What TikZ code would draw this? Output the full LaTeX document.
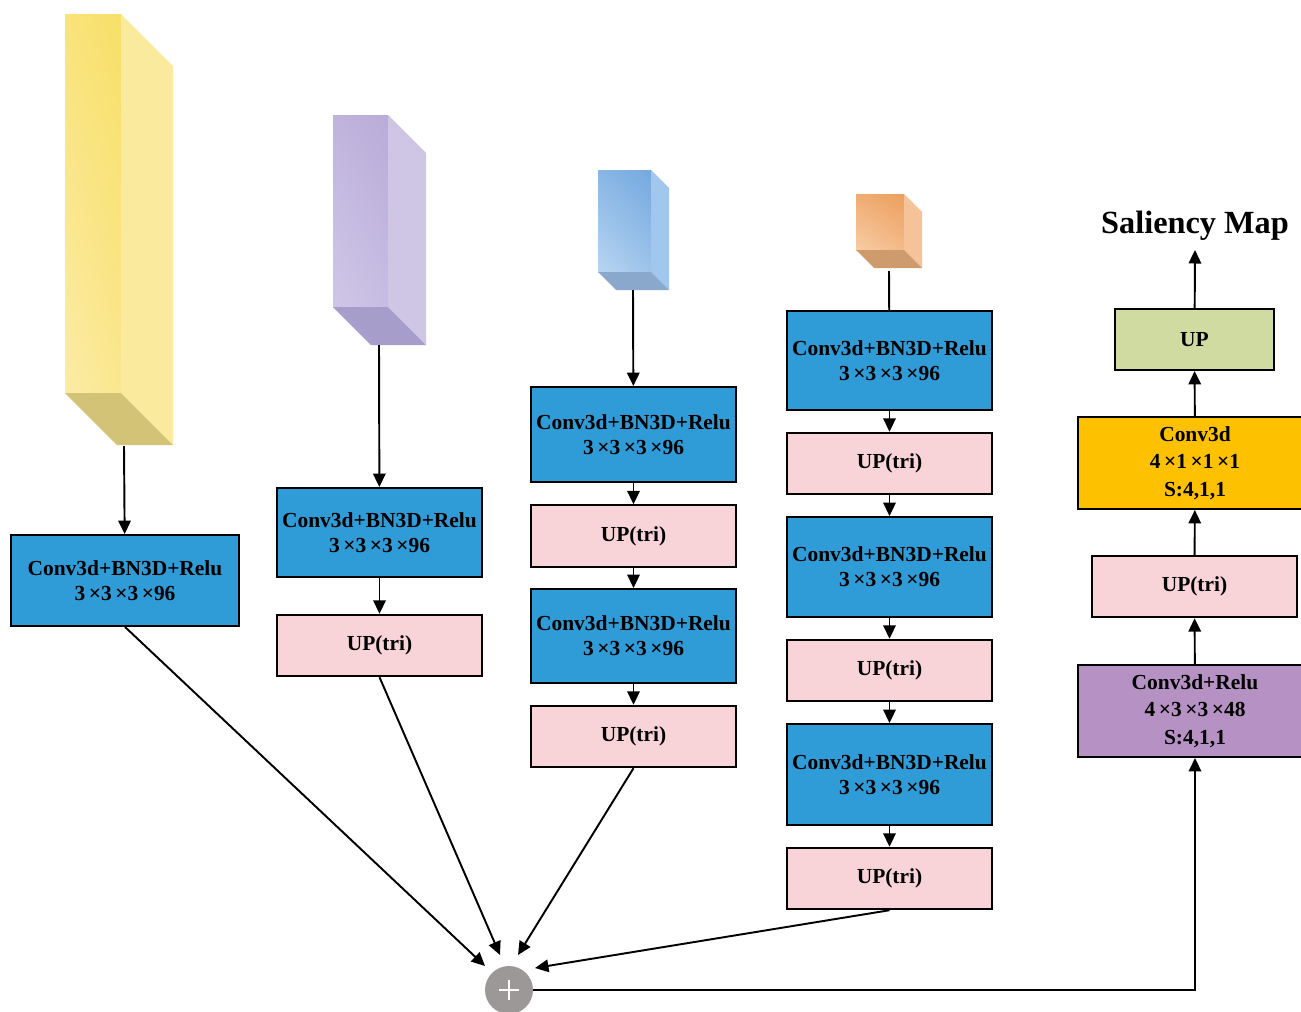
\documentclass[tikz,border=0pt]{standalone}
\usepackage{fontspec}
\setmainfont{Liberation Serif}
\usetikzlibrary{arrows.meta,shadings}

\definecolor{convblue}{HTML}{2F9BD7}
\definecolor{uppink}{HTML}{F8D3D7}
\definecolor{upgreen}{HTML}{CFDBA1}
\definecolor{outyellow}{HTML}{FDC100}
\definecolor{relupurple}{HTML}{B691C4}
\definecolor{sumgray}{HTML}{9C9897}
% block colours: front top, front bottom, side, bottom face
\definecolor{ylwA}{HTML}{F8DF68}\definecolor{ylwB}{HTML}{FBECA6}
\definecolor{ylwS}{HTML}{FAEA9E}\definecolor{ylwD}{HTML}{D3C377}
\definecolor{vioA}{HTML}{B9ACD9}\definecolor{vioB}{HTML}{D0C7E7}
\definecolor{vioS}{HTML}{CFC6E6}\definecolor{vioD}{HTML}{A69DCB}
\definecolor{bluA}{HTML}{74A9DF}\definecolor{bluB}{HTML}{B8D5F2}
\definecolor{bluS}{HTML}{A2C7EE}\definecolor{bluD}{HTML}{8AA8CC}
\definecolor{orgA}{HTML}{EC9F5E}\definecolor{orgB}{HTML}{F8CCA4}
\definecolor{orgS}{HTML}{F5C397}\definecolor{orgD}{HTML}{CD9B6C}

\tikzset{
	box/.style={draw=black, line width=1.1pt, inner sep=0pt, align=center,
		font=\bfseries\fontsize{12.2}{14.2}\selectfont},
	convbox/.style={box, fill=convblue, minimum width=4.1cm},
	upbox/.style={box, fill=uppink, minimum width=4.1cm, minimum height=1.23cm},
	link/.style={line width=1.1pt, -{Triangle[length=0.27cm,width=0.25cm]}},
}

% feature block: front face, side face, bottom face
% #1,#2 top left corner, #3 width, #4 height, #5 depth, #6-#9 colours
\newcommand{\featblock}[9]{
	\shade[upper right=#6, upper left=#6!70!#7, lower left=#7, lower right=#6!40!#7]
		(#1,#2) rectangle ++(#3,#4);
	\fill[#8] (#1+#3,#2) -- ++(#5,#5) -- ++(0,#4) -- ++(-#5,-#5) -- cycle;
	\fill[#9] (#1,#2+#4) -- ++(#3,0) -- ++(#5,#5) -- ++(-#3,0) -- cycle;
}

\begin{document}
\begin{tikzpicture}[x=0.02cm, y=-0.02cm]
	\clip (0,0) rectangle (1301,1011);
	\fill[white] (0,0) rectangle (1301,1011);

	% feature blocks
	\featblock{65}{14}{56}{379}{52}{ylwA}{ylwB}{ylwS}{ylwD}
	\featblock{333}{115}{55}{192}{38}{vioA}{vioB}{vioS}{vioD}
	\featblock{598}{170}{53}{102}{18}{bluA}{bluB}{bluS}{bluD}
	\featblock{856}{194}{48}{56}{18}{orgA}{orgB}{orgS}{orgD}

	\coordinate (f1) at (124,446);
	\coordinate (f2) at (379,345);
	\coordinate (f3) at (633,290);
	\coordinate (f4) at (889,271);

	% branch 1
	\node[convbox, minimum width=4.56cm, minimum height=1.82cm] (c1) at (125,580.5) {Conv3d+BN3D+Relu\\3\,×3\,×3\,×96};

	% branch 2
	\node[convbox, minimum height=1.78cm] (c2a) at (379.5,532.5) {Conv3d+BN3D+Relu\\3\,×3\,×3\,×96};
	\node[upbox] (u2a) at (379.5,645.5) {UP(tri)};

	% branch 3
	\node[convbox, minimum height=1.9cm] (c3a) at (633.5,434.5) {Conv3d+BN3D+Relu\\3\,×3\,×3\,×96};
	\node[upbox] (u3a) at (633.5,536) {UP(tri)};
	\node[convbox, minimum height=1.88cm] (c3b) at (633.5,636) {Conv3d+BN3D+Relu\\3\,×3\,×3\,×96};
	\node[upbox] (u3b) at (633.5,736.5) {UP(tri)};

	% branch 4
	\node[convbox, minimum height=1.98cm] (c4a) at (889.5,360.5) {Conv3d+BN3D+Relu\\3\,×3\,×3\,×96};
	\node[upbox] (u4a) at (889.5,463.5) {UP(tri)};
	\node[convbox, minimum height=2cm] (c4b) at (889.5,567) {Conv3d+BN3D+Relu\\3\,×3\,×3\,×96};
	\node[upbox] (u4b) at (889.5,670.5) {UP(tri)};
	\node[convbox, minimum height=2.02cm] (c4c) at (889.5,774.5) {Conv3d+BN3D+Relu\\3\,×3\,×3\,×96};
	\node[upbox] (u4c) at (889.5,878.5) {UP(tri)};

	% fusion
	\node[circle, fill=sumgray, minimum size=0.96cm, inner sep=0pt] (sum) at (509,990) {};
	\draw[white, line width=1.6pt] (sum.center) +(-10,0) -- +(10,0) +(0,-10) -- +(0,10);

	% output head
	\node[box, fill=relupurple, minimum width=4.68cm, minimum height=1.84cm,
		font=\bfseries\fontsize{12.2}{15.6}\selectfont] (hr) at (1195,711) {Conv3d+Relu\\4\,×3\,×3\,×48\\S:4,1,1};
	\node[upbox] (hu) at (1194.5,586.5) {UP(tri)};
	\node[box, fill=outyellow, minimum width=4.68cm, minimum height=1.84cm,
		font=\bfseries\fontsize{12.2}{15.6}\selectfont] (hc) at (1195,463) {Conv3d\\4\,×1\,×1\,×1\\S:4,1,1};
	\node[box, fill=upgreen, minimum width=3.18cm, minimum height=1.22cm] (hup) at (1194.5,339.5) {UP};
	\node[font=\bfseries\fontsize{18.4}{20}\selectfont] (sal) at (1195,226) {Saliency Map};
	\coordinate (salin) at (1195,250);

	% connectors
	\draw[link] (f1) -- (c1);
	\draw[link] (f2) -- (c2a);
	\draw[link] (f3) -- (c3a);
	\draw[line width=1.1pt] (f4) -- (c4a);
	\draw[link] (c2a) -- (u2a);
	\draw[link] (c3a) -- (u3a);
	\draw[link] (u3a) -- (c3b);
	\draw[link] (c3b) -- (u3b);
	\draw[link] (c4a) -- (u4a);
	\draw[link] (u4a) -- (c4b);
	\draw[link] (c4b) -- (u4b);
	\draw[link] (u4b) -- (c4c);
	\draw[link] (c4c) -- (u4c);

	\draw[link] (c1.south) -- (485,966);
	\draw[link] (u2a.south) -- (500,955);
	\draw[link] (u3b.south) -- (518,955);
	\draw[link] (u4c.south) -- (535,968);
	\draw[link] (sum.east) -| (hr.south);
	\draw[link] (hr) -- (hu);
	\draw[link] (hu) -- (hc);
	\draw[link] (hc) -- (hup);
	\draw[link] (hup) -- (salin);
\end{tikzpicture}
\end{document}
